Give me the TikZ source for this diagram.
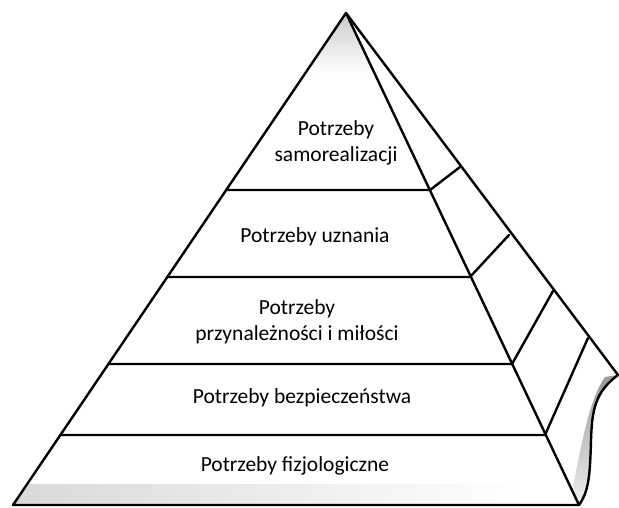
\documentclass[tikz,border=0pt]{standalone}
\usepackage{fontspec}
\setmainfont{Carlito}
\begin{document}
\begin{tikzpicture}[x=1pt,y=-1pt,
  edge/.style={line width=2.4pt, line join=round, line cap=round},
  lbl/.style={font=\fontsize{21.5}{26.5}\selectfont, align=center, inner sep=0pt}]
\useasboundingbox (0,0) rectangle (619,507);
% key points
\coordinate (A) at (346,13);
\coordinate (BL) at (13,505);
\coordinate (BR) at (579,505);
\coordinate (O) at (618,375);
% shading near apex
\shade[top color=black!20, bottom color=white] (346,14) -- (306,73) -- (374,73) -- cycle;
% base band
\shade[left color=black!15, right color=white] (14,505) -- (29,484) -- (525,484) -- (525,505) -- cycle;
% curl back side
\shade[top color=black!40, bottom color=black!6]
  (618,375) -- (605,377) .. controls (590,398) and (582,440) .. (572,492) -- (579,505)
  .. controls (588,492) and (590,480) .. (591,440) .. controls (592,410) and (595,392) .. (618,375) -- cycle;
% level lines
\coordinate (L1) at (226,190); \coordinate (R1) at (430,190); \coordinate (S1) at (460,167);
\coordinate (L2) at (167,277); \coordinate (R2) at (470,277); \coordinate (S2) at (509,235);
\coordinate (L3) at (108,364); \coordinate (R3) at (512,364); \coordinate (S3) at (553,291);
\coordinate (L4) at (60,435);  \coordinate (R4) at (545,435); \coordinate (S4) at (588,338);
\draw[edge] (L1) -- (R1) -- (S1);
\draw[edge] (L2) -- (R2) -- (S2);
\draw[edge] (L3) -- (R3) -- (S3);
\draw[edge] (L4) -- (R4) -- (S4);
% outline
\draw[edge] (BL) -- (A) -- (BR) -- cycle;
\draw[edge] (A) -- (O) .. controls (595,392) and (592,410) .. (591,440)
  .. controls (590,480) and (588,492) .. (BR);
% labels
\node[lbl] (n1) at (336,143) {Potrzeby\\samorealizacji};
\node[lbl] (n2) at (315,237) {Potrzeby uznania};
\node[lbl] (n3) at (297,322) {Potrzeby\\przynależności i miłości};
\node[lbl] (n4) at (302,398) {Potrzeby bezpieczeństwa};
\node[lbl] (n5) at (295,466) {Potrzeby fizjologiczne};
\end{tikzpicture}
\end{document}
